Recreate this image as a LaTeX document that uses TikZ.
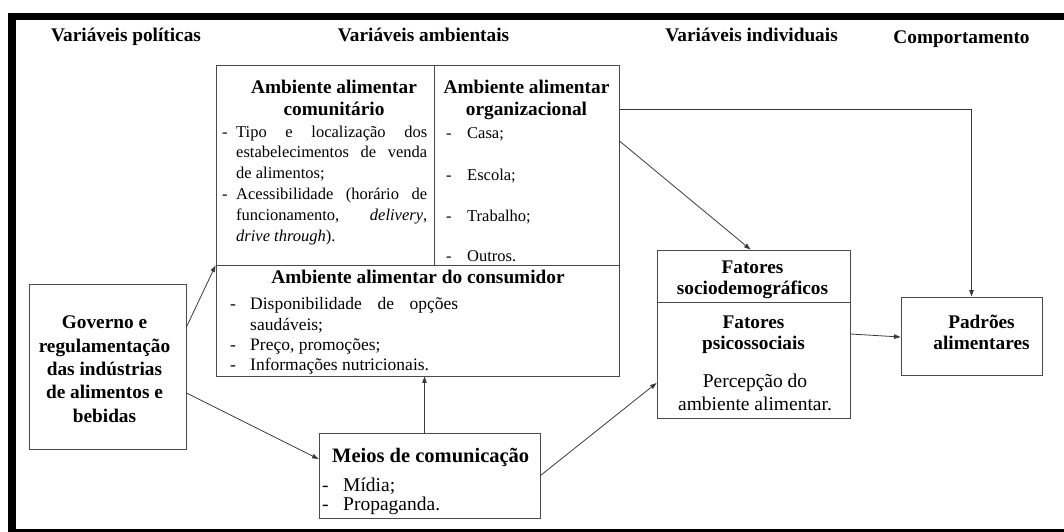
\documentclass[tikz,border=0pt]{standalone}
\usepackage{fontspec}
\setmainfont{Liberation Serif}
\usetikzlibrary{arrows.meta,calc}
\definecolor{boxgray}{HTML}{4A4A4A}
\definecolor{arrgray}{HTML}{3A3A3A}
\tikzset{
  box/.style={draw=boxgray, line width=0.9pt, inner sep=0pt},
  arr/.style={draw=arrgray, line width=0.8pt, -{Triangle[length=6.5pt,width=4.5pt]}},
  hdr/.style={font=\fontsize{19.3}{23}\selectfont\bfseries, anchor=base, inner sep=0pt},
  ttl/.style={font=\fontsize{19.3}{21}\selectfont\bfseries, anchor=base, inner sep=0pt, align=center},
  ttlb/.style={font=\fontsize{19.3}{23.3}\selectfont\bfseries, anchor=base, inner sep=0pt, align=center},
  bodyA/.style={font=\fontsize{16.5}{20.8}\selectfont, anchor=base west, inner sep=0pt},
  bodyO/.style={font=\fontsize{16.5}{19}\selectfont, anchor=base west, inner sep=0pt},
  bodyC/.style={font=\fontsize{17.5}{20}\selectfont, anchor=base west, inner sep=0pt},
  bodyM/.style={font=\fontsize{19.5}{21}\selectfont, anchor=base west, inner sep=0pt},
  bodyP/.style={font=\fontsize{19.5}{23}\selectfont, anchor=base, inner sep=0pt, align=center},
}
\begin{document}
\begin{tikzpicture}[x=1pt,y=-1pt]
\useasboundingbox (0,0) rectangle (1064,532);
% outer frame
\fill[black] (8,13) rectangle (1064,20);
\fill[black] (8,13) rectangle (16,532);
\fill[black] (8,529) rectangle (1064,532);

% headers
\node[hdr] (h1) at (126,42) {Variáveis políticas};
\node[hdr] (h2) at (423.5,42) {Variáveis ambientais};
\node[hdr] (h3) at (751.5,42) {Variáveis individuais};
\node[hdr] (h4) at (961.5,44) {Comportamento};

% boxes
\node[box, minimum width=218pt, minimum height=200pt] (comm) at (325,165) {};
\node[box, minimum width=185pt, minimum height=200pt] (org) at (526.5,165) {};
\node[box, minimum width=403pt, minimum height=111pt] (cons) at (417.5,320.5) {};
\node[box, minimum width=157pt, minimum height=165pt] (gov) at (107.5,366.5) {};
\node[box, minimum width=221pt, minimum height=85pt] (meios) at (429.5,475.5) {};
\node[box, minimum width=193pt, minimum height=52pt] (socio) at (753.5,276) {};
\node[box, minimum width=193pt, minimum height=116pt] (psico) at (753.5,360) {};
\node[box, minimum width=141pt, minimum height=78pt] (pad) at (971.5,336) {};

% community food environment
\node[ttl] (commT) at (334,115) {Ambiente alimentar\\comunitário};
\node[bodyA] (commB) at (222,137) {\parbox[t]{205pt}{\fontsize{16.5}{20.8}\selectfont\hyphenpenalty=10000\exhyphenpenalty=10000
\hangindent=14pt\hangafter=1 \makebox[14pt][l]{-}Tipo e localização dos\linebreak estabelecimentos de venda\linebreak de alimentos;\par
\hangindent=14pt\hangafter=1 \makebox[14pt][l]{-}Acessibilidade (horário de\linebreak funcionamento, \textit{delivery},\linebreak \textit{drive through}).\par}};

% organizational food environment
\node[ttl] (orgT) at (526.5,115) {Ambiente alimentar\\organizacional};
\node[bodyO] (o1d) at (446,138) {-};
\node[bodyO] (o1) at (467,138) {Casa;};
\node[bodyO] (o2d) at (446,180) {-};
\node[bodyO] (o2) at (467,180) {Escola;};
\node[bodyO] (o3d) at (446,221) {-};
\node[bodyO] (o3) at (467,221) {Trabalho;};
\node[bodyO] (o4d) at (446,261) {-};
\node[bodyO] (o4) at (467,261) {Outros.};

% consumer food environment
\node[ttl] (consT) at (418,283) {Ambiente alimentar do consumidor};
\node[bodyC] (c1d) at (230,309) {-};
\node[bodyC] (c1) at (250,309) {\hbox to 208pt{Disponibilidade\hfill de\hfill opções}};
\node[bodyC] (c1b) at (250,330) {saudáveis;};
\node[bodyC] (c2d) at (230,350) {-};
\node[bodyC] (c2) at (250,350) {Preço, promoções;};
\node[bodyC] (c3d) at (230,370) {-};
\node[bodyC] (c3) at (250,370) {Informações nutricionais.};

% government
\node[ttlb] (govT) at (104.5,422) {Governo e\\regulamentação\\das indústrias\\de alimentos e\\bebidas};

% media
\node[font=\fontsize{20.5}{22}\selectfont\bfseries, anchor=base west, inner sep=0pt] (meiosT) at (332,462) {Meios de comunicação};
\node[bodyM] (m1d) at (322,491) {-};
\node[bodyM] (m1) at (343,491) {Mídia;};
\node[bodyM] (m2d) at (322,510) {-};
\node[bodyM] (m2) at (343,510) {Propaganda.};

% individual
\node[ttl] (socioT) at (752.5,294) {Fatores\\sociodemográficos};
\node[ttl] (psicoT) at (753.5,349) {Fatores\\psicossociais};
\node[bodyP] (psicoB) at (755,410) {Percepção do\\ambiente alimentar.};

% behaviour
\node[ttl] (padT) at (981.5,349) {Padrões\\alimentares};

% connectors
\draw[arr] ([yshift=39.5pt]gov.east) -- (comm.south west);
\draw[arr] ([yshift=-26.5pt]gov.east) -- ([yshift=16.5pt]meios.west);
\draw[arr] ([xshift=-5pt]meios.north) -- ([xshift=-5pt]meios.north |- cons.south);
\draw[arr] (meios.east) -- ([yshift=-23pt]psico.west);
\draw[arr] ([yshift=24pt]org.east) -- ([xshift=-3pt]socio.north);
\draw[arr] ([yshift=56pt]org.east) -| (pad.north);
\draw[arr] ([yshift=26pt]psico.east) -- ([yshift=-1pt]pad.west);
\end{tikzpicture}
\end{document}
